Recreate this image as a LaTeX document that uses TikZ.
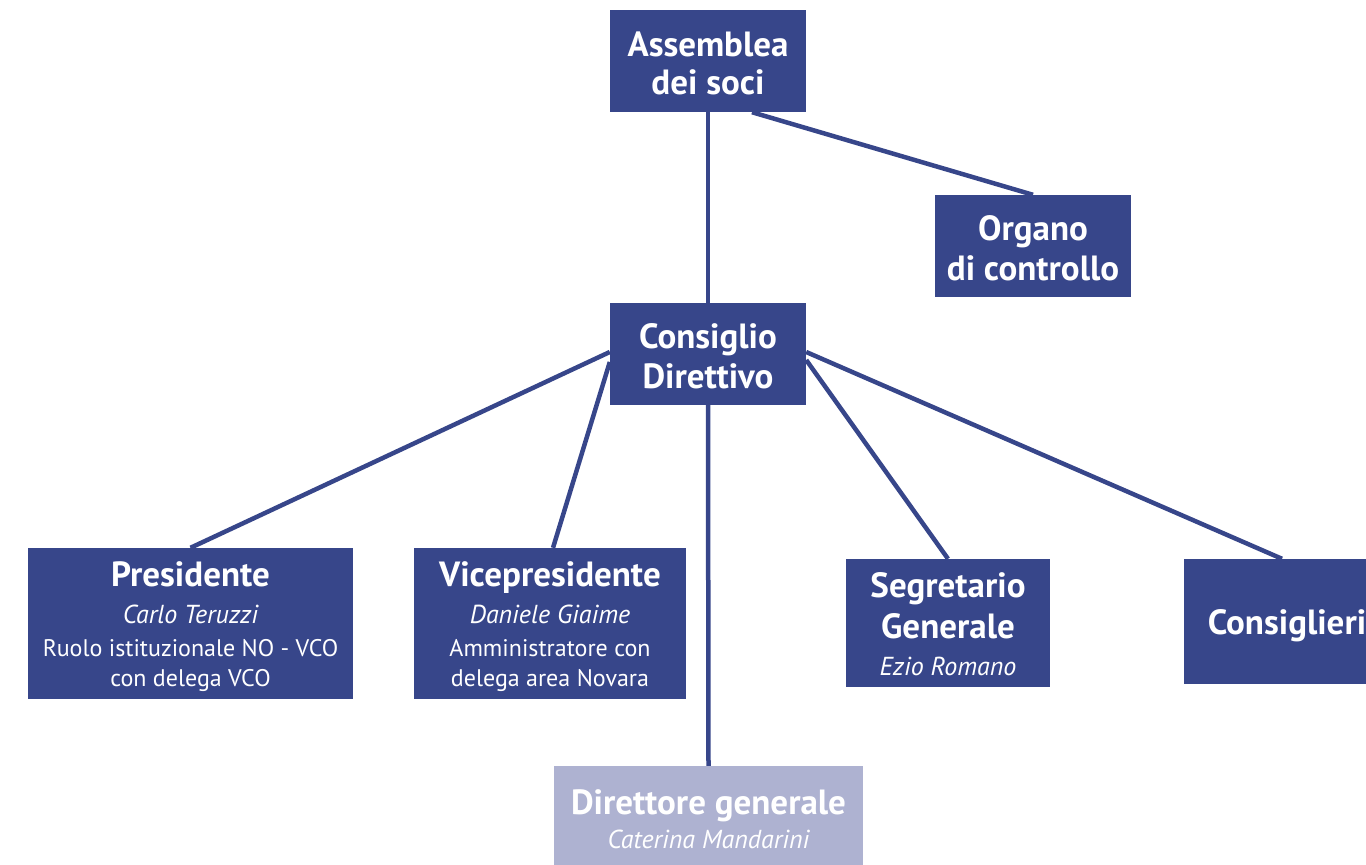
\documentclass[tikz,border=0pt]{standalone}
\usepackage{fontspec}
\setmainfont{PT Sans}
\usetikzlibrary{backgrounds}
\definecolor{boxblue}{HTML}{37468A}
\definecolor{lightblue}{HTML}{AEB2D1}
\newcommand\ttl[1]{{\fontsize{35}{31}\selectfont\bfseries #1}}
\newcommand\itl[1]{{\fontsize{26}{31}\selectfont\itshape #1}}
\begin{document}
\begin{tikzpicture}[x=1pt,y=-1pt,
  box/.style={fill=boxblue, inner sep=0pt},
  txt/.style={text=white, align=center, inner sep=0pt,
    font=\fontsize{24}{31}\selectfont},
  link/.style={draw=boxblue, line width=4.5pt}]
\useasboundingbox (0,0) rectangle (1366,865);
\node[box, minimum width=196pt, minimum height=102pt,
  label={[txt,yshift=-2pt]center:{\ttl{Assemblea}\\[7pt]\ttl{dei soci}}}] (ass) at (708,61) {};
\node[box, minimum width=196pt, minimum height=102pt,
  label={[txt,yshift=-2pt]center:{\ttl{Organo}\\[7pt]\ttl{di controllo}}}] (org) at (1033,246) {};
\node[box, minimum width=196pt, minimum height=102pt,
  label={[txt,yshift=-2pt]center:{\ttl{Consiglio}\\[7pt]\ttl{Direttivo}}}] (cons) at (708,354) {};
\node[box, minimum width=325pt, minimum height=151pt,
  label={[txt,yshift=-3pt]center:{\ttl{Presidente}\\[6pt]\itl{Carlo Teruzzi}\\[2pt]Ruolo istituzionale NO - VCO\\[-1pt]con delega VCO}}] (pres) at (190.5,623.5) {};
\node[box, minimum width=272pt, minimum height=151pt,
  label={[txt,yshift=-3pt]center:{\ttl{Vicepresidente}\\[6pt]\itl{Daniele Giaime}\\[2pt]Amministratore con\\[-1pt]delega area Novara}}] (vice) at (550,623.5) {};
\node[box, minimum width=204pt, minimum height=128pt,
  label={[txt,yshift=-1pt]center:{\ttl{Segretario}\\[7pt]\ttl{Generale}\\[6pt]\itl{Ezio Romano}}}] (segr) at (948,623) {};
\node[box, minimum width=206pt, minimum height=125pt,
  label={[txt,yshift=-4pt]center:{\ttl{Consiglieri}}}] (consi) at (1287,621.5) {};
\node[box, fill=lightblue, minimum width=309pt, minimum height=110pt,
  label={[txt,yshift=2pt]center:{\ttl{Direttore generale}\\[3pt]\itl{Caterina Mandarini}}}] (dir) at (708.5,821) {};
\begin{scope}[on background layer]
\draw[link] (ass.south) -- (cons.north);
\draw[link] ([xshift=44pt]ass.south) -- (org.north);
\draw[link] ([yshift=2pt]cons.west) -- (pres.north);
\draw[link] ([yshift=-8pt]cons.west) -- ([xshift=3pt]vice.north);
\draw[link] (cons.south) -- (dir.north);
\draw[link] ([yshift=-6pt]cons.east) -- (segr.north);
\draw[link] ([yshift=2pt]cons.east) -- ([xshift=-5pt]consi.north);
\end{scope}
\end{tikzpicture}
\end{document}
